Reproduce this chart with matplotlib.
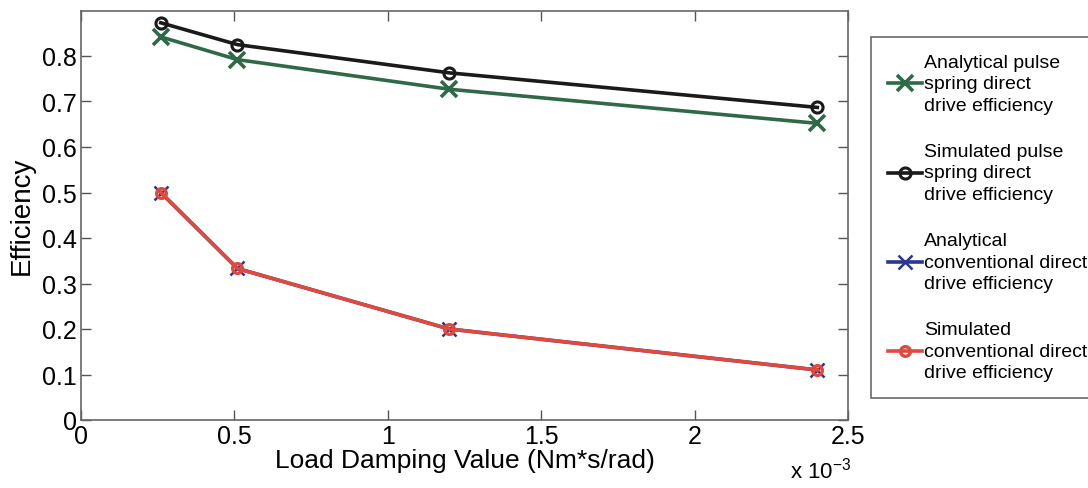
import numpy as np
import matplotlib
matplotlib.use("Agg")
from matplotlib import pyplot as plt

plt.rcParams['font.family'] = ['Liberation Sans', 'DejaVu Sans']

# Load damping values (x 1e-3 Nm*s/rad)
damping = [0.26, 0.51, 1.2, 2.4]

# Efficiency curves
analytical_pulse = [0.842, 0.792, 0.727, 0.652]
simulated_pulse = [0.873, 0.825, 0.763, 0.687]
analytical_conv = [0.5, 0.333, 0.2, 0.11]
simulated_conv = [0.5, 0.333, 0.2, 0.11]

labels = ["Analytical pulse\nspring direct\ndrive efficiency",
          "Simulated pulse\nspring direct\ndrive efficiency",
          "Analytical\nconventional direct\ndrive efficiency",
          "Simulated\nconventional direct\ndrive efficiency"]

c_green = '#2f6a48'
c_black = '#1a1a1a'
c_blue = '#2a3590'
c_red = '#e04a3c'

fig = plt.figure(figsize=(10.88, 4.89), dpi=100)
ax = fig.add_axes([81 / 1088, 1 - 421 / 489, (848 - 81) / 1088, (421 - 11.5) / 489])

l1, = ax.plot(damping, analytical_pulse, color=c_green, lw=2.6, marker='x',
              markersize=11, mew=2.6)
l2, = ax.plot(damping, simulated_pulse, color=c_black, lw=2.6, marker='o',
              markersize=8, mew=2.2, mfc='none')
l3, = ax.plot(damping, analytical_conv, color=c_blue, lw=2.6, marker='x',
              markersize=10, mew=1.8)
l4, = ax.plot(damping, simulated_conv, color=c_red, lw=2.6, marker='o',
              markersize=7, mew=2.4, mfc='none')

ax.set_xlim(0, 2.5)
ax.set_ylim(0, 0.9)
ax.set_xticks(np.arange(0, 2.51, 0.5))
ax.set_xticklabels(['0', '0.5', '1', '1.5', '2', '2.5'])
ax.set_yticks(np.arange(0, 0.81, 0.1))
ax.set_yticklabels(['0', '0.1', '0.2', '0.3', '0.4', '0.5', '0.6', '0.7', '0.8'])
ax.tick_params(direction='in', length=7, width=1, color='#555555',
               labelsize=18, top=True, right=True, pad=3)
for s in ax.spines.values():
    s.set_color('#666666')
    s.set_linewidth(1.2)

ax.set_xlabel("Load Damping Value (Nm*s/rad)", fontsize=19, labelpad=0)
ax.set_ylabel("Efficiency", fontsize=20, labelpad=5)
fig.text(790 / 1088, 1 - 479 / 489, r"x 10$^{\mathregular{-3}}$", fontsize=16,
         ha='left', va='baseline')

leg = fig.legend([l1, l2, l3, l4], labels, loc='upper left',
                 bbox_to_anchor=(871 / 1088, 1 - 38 / 489),
                 frameon=True, fancybox=False, edgecolor='#444444',
                 handlelength=1.75, handletextpad=0.12, labelspacing=1.5,
                 borderpad=0.85, borderaxespad=0, prop={'size': 14})
leg.get_frame().set_linewidth(1.2)
for t in leg.get_texts():
    t.set_linespacing(1.35)

fig.savefig("out.png", dpi=100)
